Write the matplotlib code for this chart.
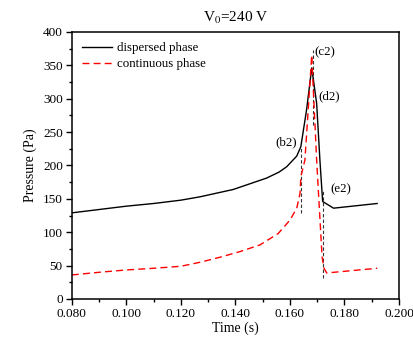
import matplotlib
matplotlib.use('Agg')
import matplotlib.pyplot as plt
from matplotlib.ticker import MultipleLocator

plt.rcParams['font.family'] = ['Liberation Serif', 'DejaVu Serif']
plt.rcParams['mathtext.fontset'] = 'stix'

# dispersed phase (black solid)
t_disp = [0.080, 0.090, 0.100, 0.110, 0.120, 0.127, 0.1392, 0.1514, 0.1560, 0.1588,
          0.1625, 0.164, 0.1661, 0.168, 0.1698, 0.171, 0.172, 0.176, 0.192]
p_disp = [129, 134, 139, 143, 148, 153, 164, 181, 190, 198,
          214, 228, 283, 346, 293, 208, 146, 136, 143]

# continuous phase (red dashed)
t_cont = [0.080, 0.090, 0.100, 0.110, 0.120, 0.127, 0.1343, 0.1417, 0.149, 0.1557,
          0.160, 0.1625, 0.1637, 0.1640, 0.1655, 0.168, 0.1698, 0.1718, 0.1725, 0.1735, 0.192]
p_cont = [36, 40, 43.5, 46, 49, 55, 62.5, 71, 81, 98,
          118, 136, 158, 183, 208, 365, 208, 63, 46, 39, 46]

# drop lines (black dashed): time, bottom, top
drop_t = [0.164, 0.1683, 0.1722]
drop_lo = [129, 260, 31]
drop_hi = [228, 373, 163]

# point labels
lab_text = ['(b2)', '(c2)', '(d2)', '(e2)']
lab_t = [0.1587, 0.1727, 0.1744, 0.1786]
lab_p = [235, 369, 303, 165]

fig = plt.figure(figsize=(4.13, 3.39), dpi=100)
ax = fig.add_axes([0.174, 0.118, 0.792, 0.788])

ax.vlines(drop_t, drop_lo, drop_hi, colors='#333333', linestyles=(0, (3, 2)), linewidth=0.8)
ax.plot(t_disp, p_disp, color='black', linewidth=1.0, label='dispersed phase')
ax.plot(t_cont, p_cont, color='red', linewidth=1.0, linestyle=(0, (5, 3)), label='continuous phase')

for s, x, y in zip(lab_text, lab_t, lab_p):
    ax.text(x, y, s, fontsize=9.3, ha='center', va='center')

ax.set_xlim(0.080, 0.200)
ax.set_ylim(0, 400)
ax.xaxis.set_major_locator(MultipleLocator(0.02))
ax.xaxis.set_minor_locator(MultipleLocator(0.01))
ax.yaxis.set_major_locator(MultipleLocator(50))
ax.yaxis.set_minor_locator(MultipleLocator(25))
ax.xaxis.set_major_formatter(plt.FormatStrFormatter('%.3f'))
ax.tick_params(which='major', direction='out', length=4, width=1.0, labelsize=9.5, pad=2.5)
ax.tick_params(which='minor', direction='out', length=2.5, width=1.0)
for sp in ax.spines.values():
    sp.set_linewidth(1.1)

ax.set_xlabel('Time (s)', fontsize=10, labelpad=1)
ax.set_ylabel('Pressure (Pa)', fontsize=10, labelpad=4)
ax.set_title('V$_0$=240 V', fontsize=11, pad=7)

ax.legend(loc='upper left', frameon=False, fontsize=9.3, handlelength=2.3,
          handletextpad=0.4, labelspacing=0.3, borderaxespad=0.4)

plt.savefig('out.png', dpi=100)
